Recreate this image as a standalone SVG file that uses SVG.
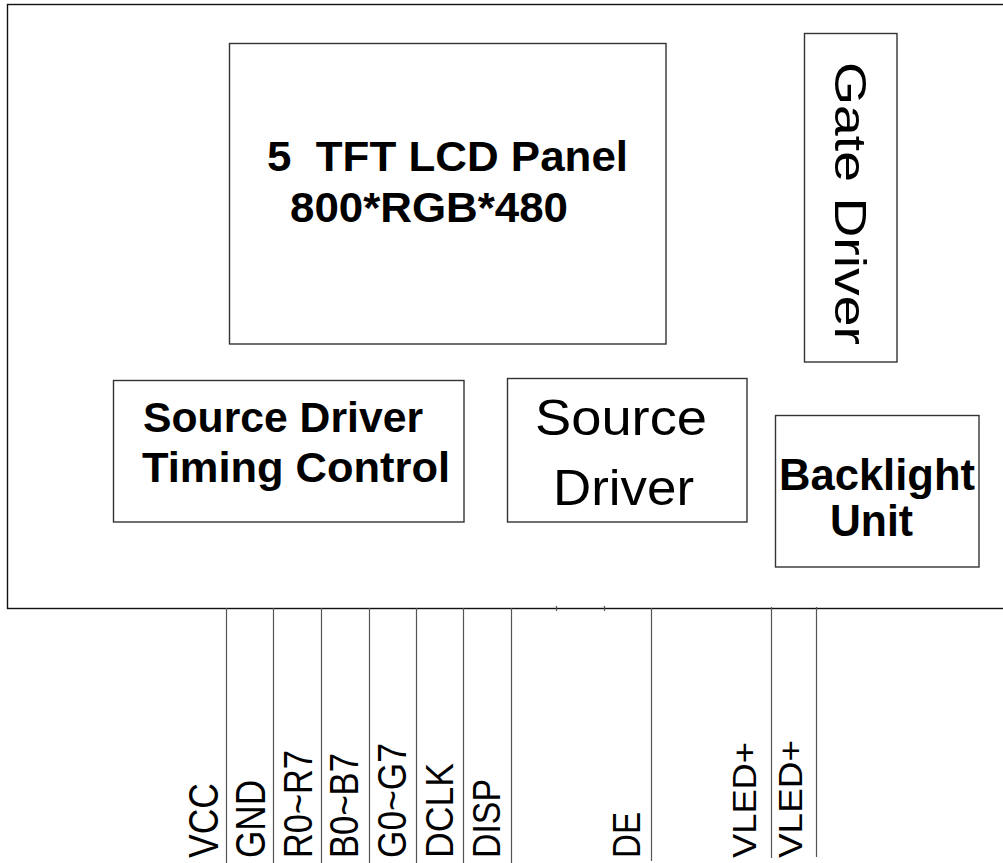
<svg xmlns="http://www.w3.org/2000/svg" width="1003" height="863" viewBox="0 0 1003 863">
<style>
.box{fill:#fff;stroke:#333;stroke-width:1.4}
.wire{stroke:#555;stroke-width:1.2;fill:none}
.t{font-family:"Liberation Sans",Arial,sans-serif;fill:#000}
.b{font-weight:bold}
</style>
<rect width="1003" height="863" fill="#fff"/>
<g id="outer"><rect x="7.5" y="4.5" width="1010" height="604" fill="none" stroke="#111" stroke-width="1.4"/></g>
<g id="lcd-panel">
<rect class="box" x="229.5" y="43.5" width="436.5" height="300.5"/>
<text class="t b" x="267" y="171" font-size="42" textLength="361" lengthAdjust="spacingAndGlyphs" xml:space="preserve">5  TFT LCD Panel</text>
<text class="t b" x="290" y="222" font-size="42" textLength="278" lengthAdjust="spacingAndGlyphs">800*RGB*480</text>
</g>
<g id="gate-driver">
<rect class="box" x="804.5" y="33.5" width="92.5" height="328.5"/>
<text class="t" transform="translate(835,62) rotate(90)" font-size="45" textLength="283" lengthAdjust="spacingAndGlyphs">Gate Driver</text>
</g>
<g id="timing-control">
<rect class="box" x="113.5" y="380.5" width="350.5" height="141.5"/>
<text class="t b" x="143" y="432" font-size="42" textLength="280" lengthAdjust="spacingAndGlyphs">Source Driver</text>
<text class="t b" x="142" y="482" font-size="42" textLength="308" lengthAdjust="spacingAndGlyphs">Timing Control</text>
</g>
<g id="source-driver">
<rect class="box" x="507.5" y="378.5" width="239.5" height="143.5"/>
<text class="t" x="535" y="435" font-size="50" textLength="172" lengthAdjust="spacingAndGlyphs">Source</text>
<text class="t" x="553" y="505" font-size="50" textLength="141" lengthAdjust="spacingAndGlyphs">Driver</text>
</g>
<g id="backlight">
<rect class="box" x="775.5" y="415.5" width="203.5" height="151.5"/>
<text class="t b" x="779" y="490" font-size="44" textLength="196" lengthAdjust="spacingAndGlyphs">Backlight</text>
<text class="t b" x="830" y="536" font-size="44" textLength="83" lengthAdjust="spacingAndGlyphs">Unit</text>
</g>
<g id="connectors">
<path class="wire" d="M226.5 608V863M273.5 608V863M321.5 608V863M369.5 608V863M416.5 608V863M463.5 608V863M511.5 608V863M651.5 608V861M771.5 607V858M816.5 607V857M556.5 606V611M604.5 606V611"/>
</g>
<g id="labels">
<text class="t" transform="translate(218,858) rotate(-90)" font-size="42" textLength="75" lengthAdjust="spacingAndGlyphs">VCC</text>
<text class="t" transform="translate(265,858) rotate(-90)" font-size="42" textLength="78" lengthAdjust="spacingAndGlyphs">GND</text>
<text class="t" transform="translate(312,858) rotate(-90)" font-size="41" textLength="108" lengthAdjust="spacingAndGlyphs">R0~R7</text>
<text class="t" transform="translate(358,858) rotate(-90)" font-size="40" textLength="105" lengthAdjust="spacingAndGlyphs">B0~B7</text>
<text class="t" transform="translate(406,858) rotate(-90)" font-size="40" textLength="115" lengthAdjust="spacingAndGlyphs">G0~G7</text>
<text class="t" transform="translate(453,858) rotate(-90)" font-size="39" textLength="95" lengthAdjust="spacingAndGlyphs">DCLK</text>
<text class="t" transform="translate(500,858) rotate(-90)" font-size="39" textLength="79" lengthAdjust="spacingAndGlyphs">DISP</text>
<text class="t" transform="translate(640,858) rotate(-90)" font-size="39" textLength="46" lengthAdjust="spacingAndGlyphs">DE</text>
<text class="t" transform="translate(756,858) rotate(-90)" font-size="33" textLength="116" lengthAdjust="spacingAndGlyphs">VLED+</text>
<text class="t" transform="translate(802,858) rotate(-90)" font-size="34" textLength="118" lengthAdjust="spacingAndGlyphs">VLED+</text>
</g>
</svg>
